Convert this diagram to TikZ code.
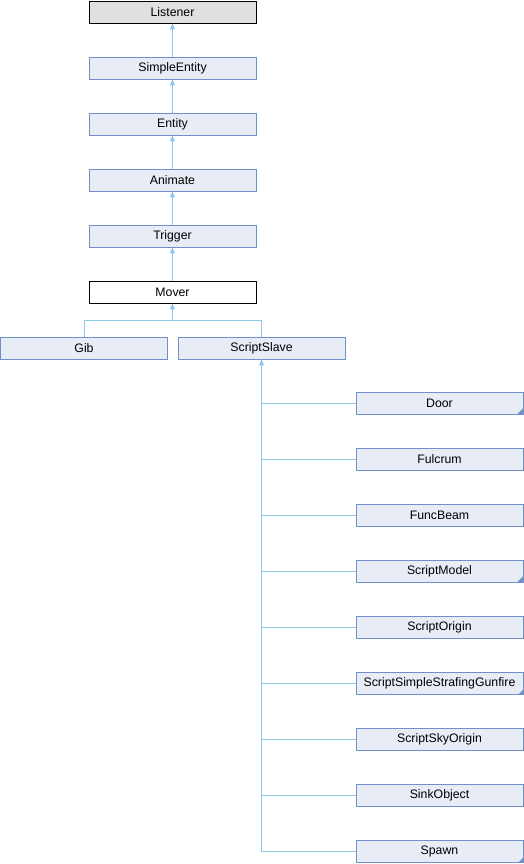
\documentclass[tikz,border=0pt]{standalone}
\usepackage{fontspec}
\setmainfont{Liberation Sans}
\usetikzlibrary{arrows.meta,calc}
\definecolor{boxfill}{HTML}{E8ECF5}
\definecolor{boxdraw}{HTML}{7090CC}
\definecolor{edgecol}{HTML}{8EC8E6}
\definecolor{topfill}{HTML}{E0E0E0}
\begin{document}
\begin{tikzpicture}[x=1pt,y=-1pt,
  cls/.style={draw=boxdraw,fill=boxfill,line width=0.9pt,minimum width=167pt,minimum height=22pt,inner sep=0pt,font=\fontsize{12.3}{14}\selectfont},
  topcls/.style={cls,draw=black,fill=topfill},
  curcls/.style={cls,draw=black,fill=white},
  inh/.style={draw=edgecol,line width=0.9pt,-{Triangle[width=5pt,length=6pt]}},
  ln/.style={draw=edgecol,line width=0.9pt}]
\useasboundingbox (0,0) rectangle (524,864);
\node[topcls] (listener) at (172.5,12) {Listener};
\node[cls] (simple) at (172.5,68) {SimpleEntity};
\node[cls] (entity) at (172.5,124) {Entity};
\node[cls] (animate) at (172.5,180) {Animate};
\node[cls] (trigger) at (172.5,236) {Trigger};
\node[curcls] (mover) at (172.5,292) {Mover};
\node[cls] (gib) at (84,348) {Gib};
\node[cls] (slave) at (261.5,348) {ScriptSlave};
\foreach \n/\t/\yy in {door/Door/403.5,fulcrum/Fulcrum/459.5,funcbeam/FuncBeam/515.5,model/ScriptModel/571.5,origin/ScriptOrigin/627.5,gunfire/ScriptSimpleStrafingGunfire/683.5,sky/ScriptSkyOrigin/739.5,sink/SinkObject/795.5,spawn/Spawn/851.5}
  \node[cls] (\n) at (439.5,\yy) {\t};
\foreach \n in {door,model}
  \fill[boxdraw] ($(\n.south east)+(-0.5,-0.5)$) -- ++(0,-6) -- ++(-6,6) -- cycle;
\foreach \n in {gunfire,spawn}
  \fill[boxdraw] ($(\n.south east)+(-0.5,-0.5)$) -- ++(0,-4.5) -- ++(-4.5,4.5) -- cycle;
\draw[inh] (simple) -- (listener);
\draw[inh] (entity) -- (simple);
\draw[inh] (animate) -- (entity);
\draw[inh] (trigger) -- (animate);
\draw[inh] (mover) -- (trigger);
\coordinate (br) at (172.5,320);
\draw[ln] (gib.north) |- (br);
\draw[ln] (slave.north) |- (br);
\draw[inh] (br) -- (mover.south);
\coordinate (vb) at (261.5,403.5);
\foreach \n in {door,fulcrum,funcbeam,model,origin,gunfire,sky,sink}
  \draw[ln] (\n.west) -- (\n.west -| vb);
\draw[ln] (spawn.west) -| (slave.south);
\draw[inh] (vb) -- (slave.south);
\end{tikzpicture}
\end{document}
